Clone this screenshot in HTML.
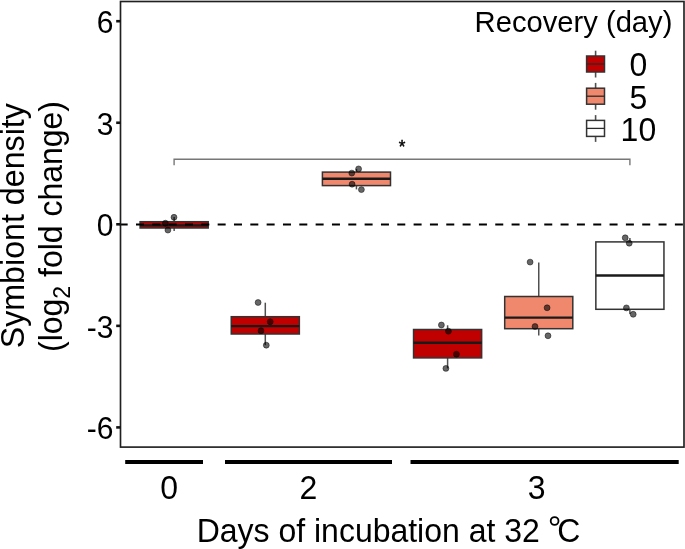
<!DOCTYPE html>
<html><head><meta charset="utf-8"><style>
html,body{margin:0;padding:0;background:#fff;width:685px;height:549px;overflow:hidden}
svg{display:block;will-change:transform}
text{font-family:"Liberation Sans",sans-serif;fill:#000}
</style></head><body>
<svg width="685" height="549" viewBox="0 0 685 549">
<line x1="174.15" y1="217.0" x2="174.15" y2="221.7" stroke="#505050" stroke-width="1.5"/>
<line x1="174.15" y1="228.0" x2="174.15" y2="231.0" stroke="#505050" stroke-width="1.5"/>
<rect x="140.1" y="221.7" width="68.1" height="6.3" fill="#C00000" stroke="#333333" stroke-width="1.5"/>
<line x1="140.1" y1="225.4" x2="208.2" y2="225.4" stroke="#1a1a1a" stroke-width="2.4"/>
<line x1="265.3" y1="302.7" x2="265.3" y2="316.7" stroke="#505050" stroke-width="1.5"/>
<line x1="265.3" y1="334.0" x2="265.3" y2="345.2" stroke="#505050" stroke-width="1.5"/>
<rect x="231.25" y="316.7" width="68.1" height="17.3" fill="#C00000" stroke="#333333" stroke-width="1.5"/>
<line x1="231.25" y1="326.1" x2="299.35" y2="326.1" stroke="#1a1a1a" stroke-width="2.4"/>
<line x1="356.45" y1="169.0" x2="356.45" y2="172.1" stroke="#505050" stroke-width="1.5"/>
<line x1="356.45" y1="185.6" x2="356.45" y2="189.4" stroke="#505050" stroke-width="1.5"/>
<rect x="322.4" y="172.1" width="68.1" height="13.5" fill="#F0886E" stroke="#333333" stroke-width="1.5"/>
<line x1="322.4" y1="178.8" x2="390.5" y2="178.8" stroke="#1a1a1a" stroke-width="2.4"/>
<line x1="447.6" y1="325.3" x2="447.6" y2="329.5" stroke="#505050" stroke-width="1.5"/>
<line x1="447.6" y1="357.9" x2="447.6" y2="368.4" stroke="#505050" stroke-width="1.5"/>
<rect x="413.55" y="329.5" width="68.1" height="28.4" fill="#C00000" stroke="#333333" stroke-width="1.5"/>
<line x1="413.55" y1="342.7" x2="481.65" y2="342.7" stroke="#1a1a1a" stroke-width="2.4"/>
<line x1="538.75" y1="262.5" x2="538.75" y2="296.5" stroke="#505050" stroke-width="1.5"/>
<line x1="538.75" y1="328.7" x2="538.75" y2="335.6" stroke="#505050" stroke-width="1.5"/>
<rect x="504.7" y="296.5" width="68.1" height="32.2" fill="#F0886E" stroke="#333333" stroke-width="1.5"/>
<line x1="504.7" y1="317.6" x2="572.8" y2="317.6" stroke="#1a1a1a" stroke-width="2.4"/>
<line x1="629.9" y1="238.0" x2="629.9" y2="241.9" stroke="#505050" stroke-width="1.5"/>
<line x1="629.9" y1="309.3" x2="629.9" y2="314.0" stroke="#505050" stroke-width="1.5"/>
<rect x="595.85" y="241.9" width="68.1" height="67.4" fill="#FFFFFF" stroke="#333333" stroke-width="1.5"/>
<line x1="595.85" y1="275.5" x2="663.95" y2="275.5" stroke="#1a1a1a" stroke-width="2.4"/>
<line x1="119.67" y1="224.4" x2="684" y2="224.4" stroke="#000" stroke-width="2" stroke-dasharray="8 8.33"/>
<circle cx="174.0" cy="217.3" r="2.95" fill="#000" fill-opacity="0.6" stroke="#000" stroke-opacity="0.6" stroke-width="0.8"/>
<circle cx="165.4" cy="223.2" r="2.95" fill="#000" fill-opacity="0.6" stroke="#000" stroke-opacity="0.6" stroke-width="0.8"/>
<circle cx="167.9" cy="230.1" r="2.95" fill="#000" fill-opacity="0.6" stroke="#000" stroke-opacity="0.6" stroke-width="0.8"/>
<circle cx="258.1" cy="302.5" r="2.95" fill="#000" fill-opacity="0.6" stroke="#000" stroke-opacity="0.6" stroke-width="0.8"/>
<circle cx="270.2" cy="321.8" r="2.95" fill="#000" fill-opacity="0.6" stroke="#000" stroke-opacity="0.6" stroke-width="0.8"/>
<circle cx="261.0" cy="330.7" r="2.95" fill="#000" fill-opacity="0.6" stroke="#000" stroke-opacity="0.6" stroke-width="0.8"/>
<circle cx="266.3" cy="345.2" r="2.95" fill="#000" fill-opacity="0.6" stroke="#000" stroke-opacity="0.6" stroke-width="0.8"/>
<circle cx="358.6" cy="168.9" r="2.95" fill="#000" fill-opacity="0.6" stroke="#000" stroke-opacity="0.6" stroke-width="0.8"/>
<circle cx="351.8" cy="173.1" r="2.95" fill="#000" fill-opacity="0.6" stroke="#000" stroke-opacity="0.6" stroke-width="0.8"/>
<circle cx="352.1" cy="184.2" r="2.95" fill="#000" fill-opacity="0.6" stroke="#000" stroke-opacity="0.6" stroke-width="0.8"/>
<circle cx="361.4" cy="189.6" r="2.95" fill="#000" fill-opacity="0.6" stroke="#000" stroke-opacity="0.6" stroke-width="0.8"/>
<circle cx="441.4" cy="325.0" r="2.95" fill="#000" fill-opacity="0.6" stroke="#000" stroke-opacity="0.6" stroke-width="0.8"/>
<circle cx="448.4" cy="331.2" r="2.95" fill="#000" fill-opacity="0.6" stroke="#000" stroke-opacity="0.6" stroke-width="0.8"/>
<circle cx="456.4" cy="354.2" r="2.95" fill="#000" fill-opacity="0.6" stroke="#000" stroke-opacity="0.6" stroke-width="0.8"/>
<circle cx="445.9" cy="368.4" r="2.95" fill="#000" fill-opacity="0.6" stroke="#000" stroke-opacity="0.6" stroke-width="0.8"/>
<circle cx="530.1" cy="262.1" r="2.95" fill="#000" fill-opacity="0.6" stroke="#000" stroke-opacity="0.6" stroke-width="0.8"/>
<circle cx="547.1" cy="307.8" r="2.95" fill="#000" fill-opacity="0.6" stroke="#000" stroke-opacity="0.6" stroke-width="0.8"/>
<circle cx="535.0" cy="326.5" r="2.95" fill="#000" fill-opacity="0.6" stroke="#000" stroke-opacity="0.6" stroke-width="0.8"/>
<circle cx="548.0" cy="335.8" r="2.95" fill="#000" fill-opacity="0.6" stroke="#000" stroke-opacity="0.6" stroke-width="0.8"/>
<circle cx="625.2" cy="237.8" r="2.95" fill="#000" fill-opacity="0.6" stroke="#000" stroke-opacity="0.6" stroke-width="0.8"/>
<circle cx="629.2" cy="243.2" r="2.95" fill="#000" fill-opacity="0.6" stroke="#000" stroke-opacity="0.6" stroke-width="0.8"/>
<circle cx="626.4" cy="307.9" r="2.95" fill="#000" fill-opacity="0.6" stroke="#000" stroke-opacity="0.6" stroke-width="0.8"/>
<circle cx="633.2" cy="314.3" r="2.95" fill="#000" fill-opacity="0.6" stroke="#000" stroke-opacity="0.6" stroke-width="0.8"/>
<polyline points="174.1,165.2 174.1,159.2 629.9,159.2 629.9,165.2" fill="none" stroke="#777" stroke-width="1.4"/>
<text transform="translate(402.00,153.00) scale(1,1.04)" font-size="17" text-anchor="middle" stroke="#000" stroke-width="0.45">*</text>
<rect x="120.5" y="1.5" width="563.5" height="445.6" fill="none" stroke="#202020" stroke-width="1.65"/>
<line x1="116.2" y1="21.20" x2="120.5" y2="21.20" stroke="#111" stroke-width="2.6"/>
<text transform="translate(113.40,33.20) scale(1,1.04)" font-size="30" text-anchor="end" >6</text>
<line x1="116.2" y1="122.75" x2="120.5" y2="122.75" stroke="#111" stroke-width="2.6"/>
<text transform="translate(113.40,134.75) scale(1,1.04)" font-size="30" text-anchor="end" >3</text>
<line x1="116.2" y1="224.30" x2="120.5" y2="224.30" stroke="#111" stroke-width="2.6"/>
<text transform="translate(113.40,236.30) scale(1,1.04)" font-size="30" text-anchor="end" >0</text>
<line x1="116.2" y1="325.85" x2="120.5" y2="325.85" stroke="#111" stroke-width="2.6"/>
<text transform="translate(113.40,337.85) scale(1,1.04)" font-size="30" text-anchor="end" >-3</text>
<line x1="116.2" y1="427.40" x2="120.5" y2="427.40" stroke="#111" stroke-width="2.6"/>
<text transform="translate(113.40,439.40) scale(1,1.04)" font-size="30" text-anchor="end" >-6</text>
<line x1="125.2" y1="462" x2="203.0" y2="462" stroke="#000" stroke-width="4"/>
<line x1="225.0" y1="462" x2="392.0" y2="462" stroke="#000" stroke-width="4"/>
<line x1="410.5" y1="462" x2="678.7" y2="462" stroke="#000" stroke-width="4"/>
<text transform="translate(169.10,498.50) scale(1,1.04)" font-size="32" text-anchor="middle" >0</text>
<text transform="translate(308.40,498.50) scale(1,1.04)" font-size="32" text-anchor="middle" >2</text>
<text transform="translate(536.70,498.50) scale(1,1.04)" font-size="32" text-anchor="middle" >3</text>
<text transform="translate(196.70,542.00) scale(1,1.04)" font-size="32" text-anchor="start" >Days of incubation at 32</text>
<circle cx="554.6" cy="521" r="3.9" fill="none" stroke="#000" stroke-width="1.8"/>
<text transform="translate(580.30,542.00) scale(1,1.04)" font-size="32" text-anchor="end" >C</text>
<text transform="translate(23.80,225.70) rotate(-90) scale(1,1.04)" font-size="32.2" text-anchor="middle" >Symbiont density</text>
<text transform="translate(61.90,226.50) rotate(-90) scale(1,1.04)" font-size="32" text-anchor="middle" >(log<tspan font-size="23" dy="8">2</tspan><tspan dy="-8"> fold change)</tspan></text>
<text transform="translate(672.40,32.00) scale(1,1.04)" font-size="29.2" text-anchor="end" >Recovery (day)</text>
<line x1="595.6" y1="50.7" x2="595.6" y2="77.5" stroke="#505050" stroke-width="1.6"/>
<rect x="586.6" y="56.0" width="17.9" height="16" fill="#C00000" stroke="#333333" stroke-width="1.5"/>
<line x1="586.6" y1="64.0" x2="604.5" y2="64.0" stroke="#2a2a2a" stroke-width="1.3"/>
<text transform="translate(638.40,76.40) scale(1,1.04)" font-size="32" text-anchor="middle" >0</text>
<line x1="595.6" y1="82.9" x2="595.6" y2="109.7" stroke="#505050" stroke-width="1.6"/>
<rect x="586.6" y="88.2" width="17.9" height="16" fill="#F0886E" stroke="#333333" stroke-width="1.5"/>
<line x1="586.6" y1="96.2" x2="604.5" y2="96.2" stroke="#2a2a2a" stroke-width="1.3"/>
<text transform="translate(638.40,108.60) scale(1,1.04)" font-size="32" text-anchor="middle" >5</text>
<line x1="595.6" y1="115.1" x2="595.6" y2="141.9" stroke="#505050" stroke-width="1.6"/>
<rect x="586.6" y="120.4" width="17.9" height="16" fill="#FFFFFF" stroke="#333333" stroke-width="1.5"/>
<line x1="586.6" y1="128.4" x2="604.5" y2="128.4" stroke="#2a2a2a" stroke-width="1.3"/>
<text transform="translate(638.40,140.80) scale(1,1.04)" font-size="32" text-anchor="middle" >10</text>
</svg>
</body></html>
